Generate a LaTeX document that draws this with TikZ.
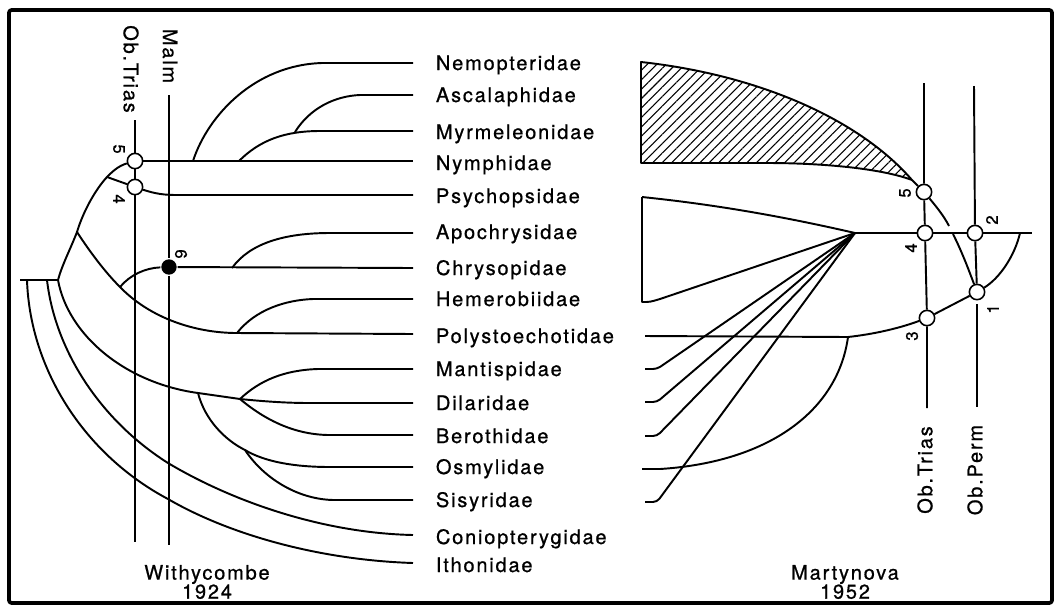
\documentclass[tikz,border=0pt]{standalone}
\usepackage{fontspec}
\setmainfont{TeX Gyre Heros}[LetterSpace=9,FakeBold=0.8]
\usetikzlibrary{patterns.meta}
\begin{document}
\begin{tikzpicture}[x=0.75pt,y=-0.75pt,line width=1.45pt,line join=round,
  lbl/.style={anchor=base west,inner sep=0,font=\fontsize{15}{18}\selectfont},
  vlbl/.style={inner sep=0,font=\fontsize{15}{18}\selectfont},
  num/.style={inner sep=0,font=\fontsize{12.5}{14}\selectfont},
  captxt/.style={inner sep=0,align=center,font=\fontsize{15}{14.3}\selectfont},
  ring/.style={circle,draw,fill=white,minimum size=11.5pt,inner sep=0,line width=1.2pt},
  bdot/.style={circle,fill=black,minimum size=11.5pt,inner sep=0},
  hatch/.style={pattern={Lines[angle=45,distance=5pt,line width=0.8pt]}}]
\useasboundingbox (0,0) rectangle (1060,608);
\draw[line width=2.8pt,rounded corners=2pt] (9,10) rectangle (1052,603);

% ---------- labels ----------
\node[lbl] (nemo)   at (435,70)  {Nemopteridae};
\node[lbl] (ascal)  at (435,102) {Ascalaphidae};
\node[lbl] (myrm)   at (435,139) {Myrmeleonidae};
\node[lbl] (nymph)  at (435,170) {Nymphidae};
\node[lbl] (psych)  at (435,203) {Psychopsidae};
\node[lbl] (apoch)  at (435,239) {Apochrysidae};
\node[lbl] (chrys)  at (435,275) {Chrysopidae};
\node[lbl] (hemer)  at (435,306) {Hemerobiidae};
\node[lbl] (polys)  at (435,343) {Polystoechotidae};
\node[lbl] (mantis) at (435,376) {Mantispidae};
\node[lbl] (dilar)  at (435,410) {Dilaridae};
\node[lbl] (beroth) at (435,443) {Berothidae};
\node[lbl] (osmyl)  at (435,474) {Osmylidae};
\node[lbl] (sisyr)  at (435,507) {Sisyridae};
\node[lbl] (conio)  at (435,544) {Coniopterygidae};
\node[lbl] (ithon)  at (435,572) {Ithonidae};

\node[captxt] (withy) at (207,582) {Withycombe\\1924};
\node[captxt] (marty) at (845,582) {Martynova\\1952};

% ---------- left tree (Withycombe) ----------
\coordinate (eNemo) at (413,63);
\coordinate (eAscal) at (413,95);
\coordinate (eMyrm) at (413,131);
\coordinate (eNymph) at (413,161);
\coordinate (ePsych) at (413,195);
\coordinate (eApoch) at (413,233);
\coordinate (eChrys) at (413,268);
\coordinate (eHemer) at (413,299);
\coordinate (ePolys) at (413,334);
\coordinate (eMantis) at (413,369);
\coordinate (eDilar) at (413,403);
\coordinate (eBeroth) at (413,435);
\coordinate (eOsmyl) at (413,467);
\coordinate (eSisyr) at (413,500);
\coordinate (eConio) at (413,535);
\coordinate (eIthon) at (413,563);

\coordinate (LR) at (58,280);
\coordinate (LS) at (20,280);
\coordinate (LA) at (77,232);
\coordinate (LB) at (107,177);
\coordinate (LP) at (120,287);
\coordinate (LQ) at (237,333);
\coordinate (LD) at (240,399);
\coordinate (LE) at (198,393);
\coordinate (LF) at (245,450);
\coordinate (LN1) at (193,161);
\coordinate (LM1) at (239,161);
\coordinate (LM2) at (295,132);
\coordinate (LC1) at (232,268);
\coordinate (LK1) at (47,280);
\coordinate (LK2) at (27,280);
\coordinate (LTtop) at (135,120);
\coordinate (LTbot) at (135,542);
\coordinate (LMtop) at (169,95);
\coordinate (LMbot) at (169,545);

\node[ring] (L5) at (135,161) {};
\node[ring] (L4) at (135,187) {};
\node[bdot] (L6) at (169,267) {};

\draw (LTtop) -- (L5) -- (L4) -- (LTbot);
\draw (LMtop) -- (L6) -- (LMbot);

\draw (L5) -- (eNymph);
\draw (LN1) .. controls (208,115) and (255,65) .. (322,63) -- (eNemo);
\draw (LM1) .. controls (260,140) and (285,131) .. (320,131) -- (eMyrm);
\draw (LM2) .. controls (310,108) and (335,96) .. (360,95) -- (eAscal);
\draw (L4) .. controls (150,192) and (160,195) .. (175,195) -- (ePsych);
\draw (L5) .. controls (118,166) and (112,172) .. (LB) .. controls (95,190) and (83,212) .. (LA) .. controls (70,250) and (62,265) .. (LR);
\draw (LB) -- (L4);
\draw (LS) -- (LR);
\draw (LA) .. controls (90,252) and (105,272) .. (LP) .. controls (150,318) and (195,333) .. (LQ) -- (ePolys);
\draw (LP) .. controls (130,275) and (145,268) .. (L6);
\draw (L6) -- (eChrys);
\draw (LC1) .. controls (250,243) and (285,233) .. (330,233) -- (eApoch);
\draw (LQ) .. controls (255,310) and (285,300) .. (313,299) -- (eHemer);
\draw (LR) .. controls (68,335) and (125,383) .. (LE) .. controls (212,395) and (226,397) .. (LD);
\draw (LD) .. controls (260,380) and (285,370) .. (318,369) -- (eMantis);
\draw (LD) .. controls (270,402) and (290,403) .. (310,403) -- (eDilar);
\draw (LD) .. controls (265,420) and (295,435) .. (330,435) -- (eBeroth);
\draw (LE) .. controls (205,420) and (225,440) .. (LF) .. controls (265,462) and (295,467) .. (330,467) -- (eOsmyl);
\draw (LF) .. controls (265,480) and (300,500) .. (335,500) -- (eSisyr);
\draw (LK1) .. controls (55,350) and (100,420) .. (168,463) .. controls (230,500) and (320,533) .. (eConio);
\draw (LK2) .. controls (30,370) and (85,455) .. (168,499) .. controls (230,535) and (320,560) .. (eIthon);

\node[vlbl,rotate=-90] (obTL) at (131,69) {Ob.Trias};
\node[vlbl,rotate=-90] (malm) at (170,56) {Malm};
\node[num,rotate=-90] (n5L) at (119,149) {5};
\node[num,rotate=-90] (n4L) at (119,199) {4};
\node[num,rotate=-90] (n6L) at (181,254) {6};

% ---------- right diagram (Martynova) ----------
\node[ring] (R5) at (924,192) {};
\node[ring] (R4) at (925,233) {};
\node[ring] (R2) at (975,233) {};
\node[ring] (R1) at (977,292) {};
\node[ring] (R3) at (927,318) {};
\coordinate (RF) at (855,233);
\coordinate (RTtop) at (924,83);
\coordinate (RTbot) at (927,408);
\coordinate (RPtop) at (974,86);
\coordinate (RPgap) at (977,304);
\coordinate (RPbot) at (977,407);
\coordinate (Rend) at (1032,233);
\coordinate (Rarc) at (1020,233);
\coordinate (RH1) at (641,62);
\coordinate (RH2) at (912,180);
\coordinate (RH3) at (641,163);
\coordinate (RX1) at (949,226);
\coordinate (RX2) at (953,234);
\coordinate (RPo) at (848,337);
\coordinate (RPoL) at (645,336);
\coordinate (ROsL) at (642,469);
\coordinate (RMa) at (645,369);
\coordinate (RDi) at (645,402);
\coordinate (RBe) at (645,436);
\coordinate (RSi) at (645,502);
\coordinate (RW1) at (642,197);
\coordinate (RW2) at (642,302);

\draw[hatch] (RH1) .. controls (760,75) and (860,120) .. (RH2) .. controls (880,168) and (820,163) .. (767,163) -- (RH3) -- cycle;
\draw (RH2) -- (R5);
\draw (R5) .. controls (935,205) and (944,216) .. (RX1);
\draw (RX2) .. controls (962,252) and (968,268) .. (R1);
\draw (RTtop) -- (R5) -- (R4) -- (R3) -- (RTbot);
\draw (RPtop) -- (R2) -- (R1);
\draw (RPgap) -- (RPbot);
\draw (RF) -- (R4) -- (R2) -- (Rend);
\draw (R1) .. controls (1000,278) and (1015,255) .. (Rarc);
\draw (R3) -- (R1);
\draw (RPoL) -- (RPo) .. controls (875,334) and (900,328) .. (R3);
\draw (RPo) .. controls (838,410) and (770,462) .. (660,469) -- (ROsL);
\draw (RW1) .. controls (720,205) and (790,218) .. (RF);
\draw (RW1) -- (RW2) .. controls (650,302) .. (660,299) -- (RF);
\draw[rounded corners=3pt] (RF) -- (657,369) -- (RMa);
\draw[rounded corners=3pt] (RF) -- (657,402) -- (RDi);
\draw[rounded corners=3pt] (RF) -- (657,436) -- (RBe);
\draw[rounded corners=3pt] (RF) -- (657,502) -- (RSi);

\node[num,rotate=90] (n5R) at (905,193) {5};
\node[num,rotate=90] (n4R) at (911,248) {4};
\node[num,rotate=90] (n2R) at (992,220) {2};
\node[num,rotate=90] (n1R) at (993,309) {1};
\node[num,rotate=90] (n3R) at (912,336) {3};
\node[vlbl,rotate=90] (obTR) at (925,470) {Ob.Trias};
\node[vlbl,rotate=90] (obPR) at (975,470) {Ob.Perm};
\end{tikzpicture}
\end{document}
